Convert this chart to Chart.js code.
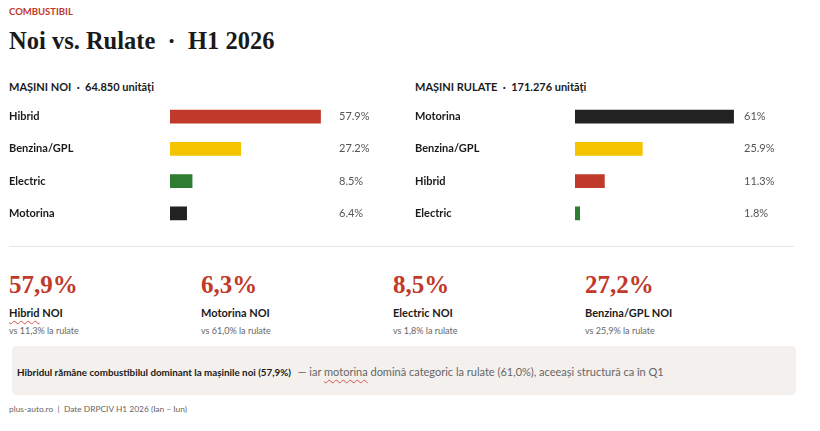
<!DOCTYPE html>
<html lang="ro">
<head>
<meta charset="utf-8">
<script src="https://cdn.jsdelivr.net/npm/chart.js@4.4.1/dist/chart.umd.min.js"></script>
<style>
  html, body { margin: 0; padding: 0; background: #fff; }
  body { width: 820px; height: 431px; position: relative; overflow: hidden; font-family: Lato, "Open Sans", sans-serif; color: #222; }
  .abs { position: absolute; white-space: nowrap; }
  .kicker { left: 9px; top: 6px; font-size: 9.5px; font-weight: 700; color: #c0392b; }
  .title { left: 9px; top: 27px; font-family: "Liberation Serif", "DejaVu Serif", serif; font-weight: 700; font-size: 24.5px; color: #1a1a1a; }
  .head { top: 80px; font-size: 11px; font-weight: 700; color: #1a1a1a; }
  .rule { left: 9px; top: 246px; width: 785px; height: 1px; background: #e6e6e6; }
  .kpi { top: 271px; width: 190px; }
  .kpi .big { font-family: "Liberation Serif", "DejaVu Serif", serif; font-weight: 700; font-size: 25px; color: #c0392b; line-height: 28px; }
  .kpi .lbl { font-size: 11px; font-weight: 700; margin-top: 7px; color: #1a1a1a; }
  .kpi .sub { font-size: 9px; color: #666; margin-top: 6px; }
  .squig { text-decoration: underline wavy #d9534f; text-decoration-thickness: 1px; text-underline-offset: 3px; }
  .note { left: 12px; top: 346px; width: 784px; height: 49px; background: #f3f0ed; border-radius: 5px; }
  .note div.txt { position: absolute; left: 5px; top: 16px; line-height: 16px; white-space: nowrap; }
  .note b { color: #1a1a1a; font-size: 9.8px; }
  .note i { font-style: normal; color: #666; font-size: 11px; }
  .foot { left: 9px; top: 404px; font-size: 8.4px; color: #666; }
</style>
</head>
<body>
<div class="abs kicker">COMBUSTIBIL</div>
<div class="abs title">Noi vs. Rulate &nbsp;·&nbsp; H1 2026</div>

<div class="abs head" style="left:9px">MAȘINI NOI &nbsp;·&nbsp; 64.850 unități</div>
<div class="abs head" style="left:415px">MAȘINI RULATE &nbsp;·&nbsp; 171.276 unități</div>

<canvas id="chartNoi" width="400" height="148" style="position:absolute;left:0;top:91px"></canvas>
<canvas id="chartRulate" width="414" height="148" style="position:absolute;left:406px;top:91px"></canvas>

<div class="abs rule"></div>

<div id="kpis"></div>

<div class="abs note"><div class="txt"><b>Hibridul rămâne combustibilul dominant la mașinile noi (57,9%)</b> <i>&nbsp;— iar <span class="squig">motorina</span> domină categoric la rulate (61,0%), aceeași structură ca în Q1</i></div></div>

<div class="abs foot">plus-auto.ro &nbsp;|&nbsp; Date DRPCIV H1 2026 (Ian – Iun)</div>

<script>
// date - masini noi
const categoriiNoi = ['Hibrid', 'Benzina/GPL', 'Electric', 'Motorina'];
const valoriNoi = [57.9, 27.2, 8.5, 6.4];
const eticheteNoi = ['57.9%', '27.2%', '8.5%', '6.4%'];
const culoriNoi = ['#c0392b', '#f5c400', '#2e7d32', '#222222'];

// date - masini rulate
const categoriiRulate = ['Motorina', 'Benzina/GPL', 'Hibrid', 'Electric'];
const valoriRulate = [61, 25.9, 11.3, 1.8];
const eticheteRulate = ['61%', '25.9%', '11.3%', '1.8%'];
const culoriRulate = ['#222222', '#f5c400', '#c0392b', '#2e7d32'];

// carduri KPI
const kpiValori = ['57,9%', '6,3%', '8,5%', '27,2%'];
const kpiEtichete = ['Hibrid', 'Motorina', 'Electric', 'Benzina/GPL'];
const kpiRulate = ['11,3%', '61,0%', '1,8%', '25,9%'];

const FONT = 'Lato, "Open Sans", sans-serif';

// eticheta procentuala intr-o coloana fixa
const valoriPlugin = {
    id: 'valori',
    afterDatasetsDraw(chart, args, opts) {
        const ctx = chart.ctx;
        const meta = chart.getDatasetMeta(0);
        ctx.save();
        ctx.font = '11px ' + FONT;
        ctx.fillStyle = '#555';
        ctx.textAlign = 'left';
        ctx.textBaseline = 'middle';
        meta.data.forEach((bar, i) => {
            ctx.fillText(opts.labels[i], chart.chartArea.left + opts.offset, bar.y);
        });
        ctx.restore();
    }
};

function creeazaGrafic(id, labels, data, colors, textLabels, axisWidth, padRight) {
    const ctx = document.getElementById(id).getContext('2d');
    return new Chart(ctx, {
        type: 'bar',
        data: {
            labels: labels,
            datasets: [{
                data: data,
                backgroundColor: colors,
                borderWidth: 0,
                barThickness: 13
            }]
        },
        options: {
            indexAxis: 'y',
            responsive: false,
            animation: false,
            layout: { padding: { left: 9, right: padRight, top: 0, bottom: 0 } },
            plugins: {
                legend: { display: false },
                tooltip: { enabled: false },
                valori: { labels: textLabels, offset: 169 }
            },
            scales: {
                x: { display: false, min: 0, max: 70 },
                y: {
                    grid: { display: false },
                    border: { display: false },
                    afterFit: (scale) => { scale.width = axisWidth; },
                    ticks: { crossAlign: 'far', color: '#1a1a1a', font: { family: FONT, size: 11, weight: '700' } }
                }
            }
        },
        plugins: [valoriPlugin]
    });
}

creeazaGrafic('chartNoi', categoriiNoi, valoriNoi, culoriNoi, eticheteNoi, 161, 400 - 352);
creeazaGrafic('chartRulate', categoriiRulate, valoriRulate, culoriRulate, eticheteRulate, 160, 414 - 351);

// KPI-uri
const kpiBox = document.getElementById('kpis');
kpiValori.forEach((v, i) => {
    const d = document.createElement('div');
    d.className = 'abs kpi';
    d.style.left = (9 + i * 192) + 'px';
    const lbl = i === 0 ? '<span class="squig">' + kpiEtichete[i] + '</span>' : kpiEtichete[i];
    d.innerHTML = '<div class="big">' + v + '</div><div class="lbl">' + lbl + ' NOI</div><div class="sub">vs ' + kpiRulate[i] + ' la rulate</div>';
    kpiBox.appendChild(d);
});
</script>
</body>
</html>
